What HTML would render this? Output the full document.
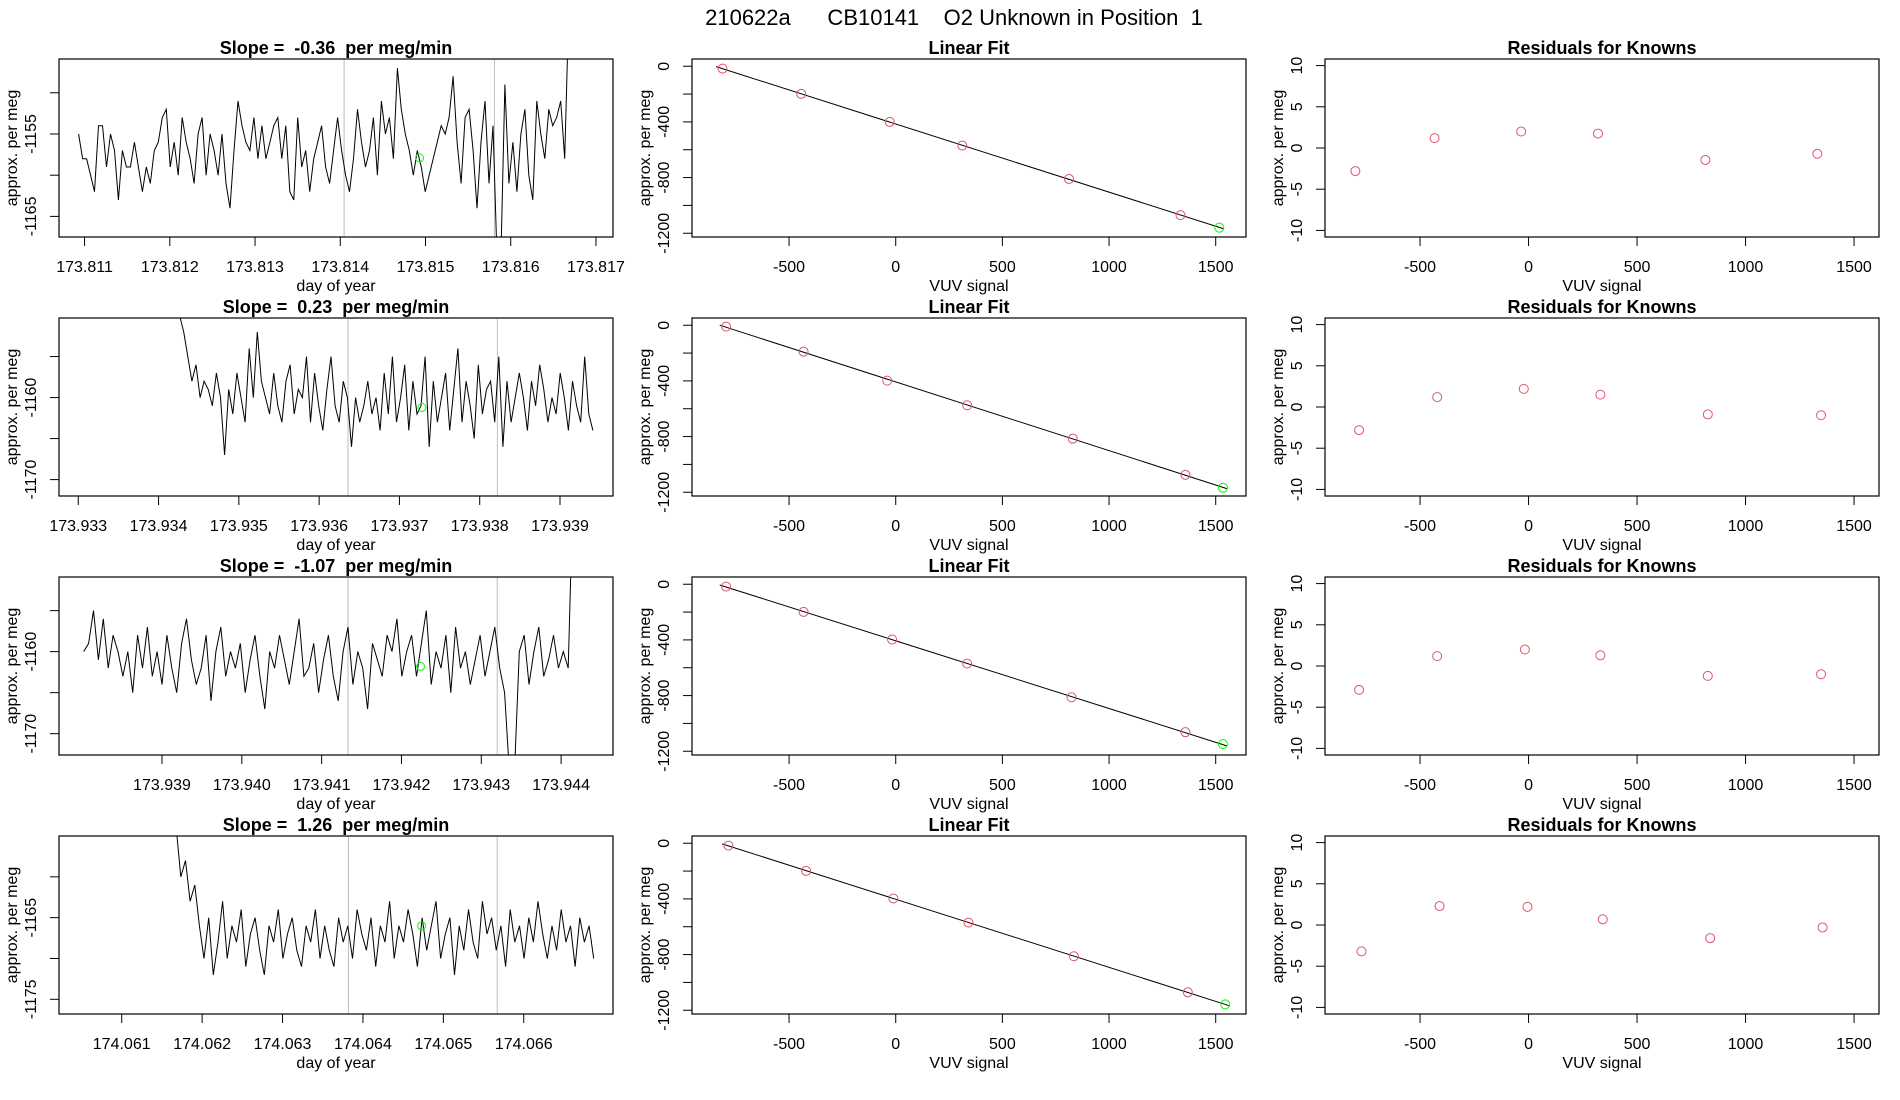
<!DOCTYPE html>
<html><head><meta charset="utf-8"><style>
html,body{margin:0;padding:0;background:#fff;}
svg{display:block;font-family:"Liberation Sans",sans-serif;}
svg text{white-space:pre;}
</style></head><body>
<svg id="chart" width="1900" height="1100" viewBox="0 0 1900 1100" xmlns="http://www.w3.org/2000/svg">
<rect width="1900" height="1100" fill="#fff"/>
<text x="954" y="25" font-size="22" text-anchor="middle">210622a      CB10141    O2 Unknown in Position  1</text>
<g id="panels"></g>
</svg>
<script>
// ---------- time series data ----------
const ts1Vals=[-1155,-1158,-1158,-1160,-1162,-1154,-1154,-1159,-1155,-1157,-1163,-1157,-1159,-1159,-1156,-1159,-1162,-1159,-1161,-1157,-1156,-1153,-1152,-1159,-1156,-1160,-1153,-1156,-1158,-1161,-1155,-1153,-1160,-1155,-1157,-1160,-1155,-1161,-1164,-1157,-1151,-1154,-1156,-1157,-1153,-1158,-1154,-1158,-1156,-1154,-1153,-1158,-1154,-1162,-1163,-1153,-1159,-1157,-1162,-1158,-1156,-1154,-1159,-1161,-1157,-1153,-1157,-1160,-1162,-1158,-1152,-1156,-1159,-1157,-1153,-1160,-1151,-1155,-1153,-1158,-1147,-1152,-1155,-1157,-1160,-1157,-1159,-1162,-1160,-1158,-1156,-1154,-1155,-1153,-1148,-1156,-1161,-1153,-1152,-1157,-1164,-1156,-1151,-1161,-1154,-1170,-1170,-1149,-1161,-1156,-1162,-1155,-1152,-1160,-1163,-1151,-1155,-1158,-1152,-1154,-1153,-1151,-1158,-1140];
const ts2Vals=[-1145,-1148,-1150,-1152,-1155,-1158,-1156,-1160,-1158,-1159,-1161,-1157,-1160,-1167,-1159,-1162,-1157,-1160,-1163,-1154,-1160,-1152,-1158,-1160,-1162,-1157,-1161,-1163,-1158,-1156,-1162,-1159,-1160,-1155,-1163,-1157,-1161,-1164,-1159,-1155,-1161,-1163,-1158,-1160,-1166,-1160,-1163,-1161,-1158,-1162,-1160,-1164,-1157,-1162,-1155,-1163,-1160,-1156,-1164,-1158,-1162,-1161,-1155,-1166,-1158,-1163,-1160,-1157,-1164,-1159,-1154,-1163,-1158,-1161,-1165,-1156,-1162,-1159,-1158,-1163,-1155,-1166,-1158,-1163,-1160,-1157,-1160,-1164,-1158,-1161,-1156,-1159,-1163,-1160,-1162,-1157,-1160,-1164,-1158,-1161,-1163,-1155,-1162,-1164];
const ts3Vals=[-1160,-1159,-1155,-1161,-1156,-1162,-1158,-1160,-1163,-1160,-1165,-1158,-1162,-1157,-1163,-1160,-1164,-1158,-1162,-1165,-1159,-1156,-1161,-1164,-1162,-1158,-1166,-1160,-1157,-1163,-1160,-1162,-1159,-1165,-1161,-1158,-1163,-1167,-1160,-1162,-1158,-1161,-1164,-1160,-1156,-1163,-1162,-1159,-1165,-1161,-1158,-1163,-1166,-1160,-1157,-1164,-1160,-1162,-1167,-1159,-1161,-1163,-1158,-1160,-1156,-1163,-1160,-1158,-1163,-1159,-1155,-1164,-1160,-1162,-1158,-1165,-1157,-1162,-1160,-1164,-1161,-1158,-1163,-1160,-1157,-1162,-1165,-1175,-1175,-1160,-1158,-1164,-1160,-1157,-1163,-1161,-1158,-1162,-1160,-1162,-1140];
const ts4Vals=[-1150,-1154,-1160,-1158,-1163,-1161,-1166,-1170,-1165,-1172,-1168,-1163,-1170,-1166,-1168,-1164,-1171,-1167,-1165,-1169,-1172,-1166,-1168,-1164,-1170,-1167,-1165,-1169,-1171,-1166,-1168,-1164,-1170,-1166,-1169,-1171,-1165,-1168,-1166,-1170,-1164,-1167,-1169,-1165,-1171,-1166,-1168,-1163,-1170,-1166,-1168,-1164,-1167,-1171,-1165,-1169,-1166,-1163,-1170,-1167,-1165,-1172,-1166,-1169,-1164,-1168,-1170,-1163,-1167,-1165,-1169,-1166,-1171,-1164,-1168,-1166,-1170,-1165,-1168,-1163,-1167,-1170,-1166,-1169,-1164,-1168,-1166,-1171,-1165,-1168,-1166,-1170];
const tsStart=[173.81093,173.93416,173.93802,174.06162];
const tsEnd=[173.81668,173.93941,173.94415,174.06687];
const tsXlim=[[173.8107,173.8172],[173.93276,173.93966],[173.93771,173.94465],[174.06022,174.06711]];
const tsYlim=[[-1167.5,-1145.9],[-1172,-1150.3],[-1172.6,-1150.9],[-1176.8,-1155]];
const tsXticks=[[173.811,173.812,173.813,173.814,173.815,173.816,173.817],[173.933,173.934,173.935,173.936,173.937,173.938,173.939],[173.939,173.940,173.941,173.942,173.943,173.944],[174.061,174.062,174.063,174.064,174.065,174.066]];
const tsYticks=[[-1165,-1160,-1155,-1150],[-1170,-1165,-1160,-1155],[-1170,-1165,-1160,-1155],[-1175,-1170,-1165,-1160]];
const tsYlabels=[[-1165,-1155],[-1170,-1160],[-1170,-1160],[-1175,-1165]];
const tsVlines=[[173.814045,173.815809],[173.93636,173.93822],[173.94133,173.94320],[174.06382,174.06567]];
const tsGreenX=[173.81493,173.93728,173.94224,174.06473];
const tsGreenY=[-1157.9,-1161.2,-1161.8,-1166];
const slopeText=["-0.36","0.23","-1.07","1.26"];
// ---------- linear fit data ----------
const fitX=[[-812,-443,-28,312,812,1335],[-795,-432,-40,335,830,1358],[-795,-432,-17,335,824,1358],[-784,-420,-11,341,835,1369]];
const fitY=[[-17,-199,-400,-570,-810,-1070],[-10,-190,-398,-575,-815,-1075],[-17,-199,-397,-570,-812,-1063],[-17,-199,-397,-570,-812,-1071]];
const unkX=[1517,1534,1534,1545];
const unkY=[-1160,-1168,-1149,-1158];
const fitXlim=[-955,1642], fitYlim=[-1227,52];
const fitXticks=[-500,0,500,1000,1500];
const fitYticks=[0,-200,-400,-600,-800,-1000,-1200];
const fitYlabels=[0,-400,-800,-1200];
// ---------- residuals ----------
const resX=[[-798,-433,-34,320,815,1331],[-781,-421,-22,331,826,1348],[-781,-421,-17,331,826,1348],[-770,-410,-5,342,837,1355]];
const resY=[[-2.8,1.2,2.0,1.75,-1.45,-0.7],[-2.8,1.2,2.2,1.5,-0.9,-1.0],[-2.9,1.2,2.0,1.3,-1.2,-1.0],[-3.2,2.3,2.2,0.7,-1.6,-0.3]];
const resXlim=[-938,1615], resYlim=[-10.8,10.8];
const resXticks=[-500,0,500,1000,1500];
const resYticks=[10,5,0,-5,-10];

const NS="http://www.w3.org/2000/svg";
const COLX=[59,692,1325], W=554, ROWY=[59,318,577,836], H=178;
const root=document.getElementById('panels');
function mk(tag,attrs,parent){const e=document.createElementNS(NS,tag);for(const k in attrs)e.setAttribute(k,attrs[k]);(parent||root).appendChild(e);return e;}
function scale(d0,d1,r0,r1){return v=>r0+(v-d0)/(d1-d0)*(r1-r0);}

function panel(r,c,xlim,ylim,xticks,yticks,ylabels,xfmt,title,xlab,name){
  const L=COLX[c],T=ROWY[r],R=L+W,B=T+H;
  const g=mk('g',{});
  
  
  const sx=scale(xlim[0],xlim[1],L,R), sy=scale(ylim[0],ylim[1],B,T);
  const cid='clip'+r+'_'+c;
  const cp=mk('clipPath',{id:cid},g); mk('rect',{x:L,y:T,width:W,height:H},cp);
  const t=mk('text',{x:L+W/2,y:T-5,'font-size':18,'font-weight':'bold','text-anchor':'middle'},g);
  t.textContent=title;
  
  
  const xa=mk('g',{},g);
  
  
  mk('line',{x1:sx(xticks[0]),x2:sx(xticks[xticks.length-1]),y1:B,y2:B,stroke:'#000'},xa);
  xticks.forEach(v=>{const x=sx(v);mk('line',{x1:x,x2:x,y1:B,y2:B+9,stroke:'#000'},xa);
    const tl=mk('text',{x:x,y:B+35,'font-size':16,'text-anchor':'middle'},xa);tl.textContent=xfmt(v);});
  const xl=mk('text',{x:L+W/2,y:B+54,'font-size':16,'text-anchor':'middle'},g);xl.textContent=xlab;
  
  
  const ya=mk('g',{},g);
  
  
  mk('line',{x1:L,x2:L,y1:sy(yticks[0]),y2:sy(yticks[yticks.length-1]),stroke:'#000'},ya);
  yticks.forEach(v=>{const y=sy(v);mk('line',{x1:L-9,x2:L,y1:y,y2:y,stroke:'#000'},ya);
    if(ylabels.indexOf(v)>=0){const tl=mk('text',{x:L-23,y:y,'font-size':16,'text-anchor':'middle',transform:'rotate(-90 '+(L-23)+' '+y+')'},ya);tl.textContent=String(v);}});
  const yl=mk('text',{x:L-42,y:T+H/2,'font-size':16,'text-anchor':'middle',transform:'rotate(-90 '+(L-42)+' '+(T+H/2)+')'},g);yl.textContent='approx. per meg';
  
  
  const plot=mk('g',{'clip-path':'url(#'+cid+')'},g);
  const box=mk('rect',{x:L,y:T,width:W,height:H,fill:'none',stroke:'#000','stroke-width':1.2},g);
  
  
  return {sx,sy,plot};
}

for(let r=0;r<4;r++){
  const vals=[ts1Vals,ts2Vals,ts3Vals,ts4Vals][r];
  const p=panel(r,0,tsXlim[r],tsYlim[r],tsXticks[r],tsYticks[r],tsYlabels[r],v=>v.toFixed(3),'Slope =  '+slopeText[r]+'  per meg/min','day of year','timeseries-panel-'+(r+1));
  tsVlines[r].forEach(v=>{const l=mk('line',{x1:p.sx(v),x2:p.sx(v),y1:ROWY[r],y2:ROWY[r]+H,stroke:'#bebebe'},p.plot);
    
    });
  const n=vals.length;
  const pts=vals.map((v,i)=>{const t=tsStart[r]+(tsEnd[r]-tsStart[r])*i/(n-1);return p.sx(t).toFixed(1)+','+p.sy(v).toFixed(1);}).join(' ');
  const pl=mk('polyline',{points:pts,fill:'none',stroke:'#000','stroke-width':1},p.plot);
  
  
  const gc=mk('circle',{cx:p.sx(tsGreenX[r]),cy:p.sy(tsGreenY[r]),r:4,fill:'none',stroke:'#00ff00','stroke-width':1},p.plot);
  
  

  const q=panel(r,1,fitXlim,fitYlim,fitXticks,fitYticks,fitYlabels,v=>String(v),'Linear Fit','VUV signal','linear-fit-panel-'+(r+1));
  const xs=fitX[r],ys=fitY[r],m=xs.length;
  const mx=xs.reduce((a,b)=>a+b,0)/m,my=ys.reduce((a,b)=>a+b,0)/m;
  let sxy=0,sxx=0;for(let i=0;i<m;i++){sxy+=(xs[i]-mx)*(ys[i]-my);sxx+=(xs[i]-mx)**2;}
  const b1=sxy/sxx,b0=my-b1*mx;
  const x0=xs[0]-30,x1=unkX[r]+20;
  const fl=mk('line',{x1:q.sx(x0),y1:q.sy(b0+b1*x0),x2:q.sx(x1),y2:q.sy(b0+b1*x1),stroke:'#000','stroke-width':1},q.plot);
  
  
  for(let i=0;i<m;i++){const cc=mk('circle',{cx:q.sx(xs[i]),cy:q.sy(ys[i]),r:4.5,fill:'none',stroke:'#DF536B','stroke-width':1},q.plot);
    
    }
  const uc=mk('circle',{cx:q.sx(unkX[r]),cy:q.sy(unkY[r]),r:4.5,fill:'none',stroke:'#00ff00','stroke-width':1},q.plot);
  
  

  const s=panel(r,2,resXlim,resYlim,resXticks,resYticks,resYticks,v=>String(v),'Residuals for Knowns','VUV signal','residuals-panel-'+(r+1));
  for(let i=0;i<resX[r].length;i++){const rc=mk('circle',{cx:s.sx(resX[r][i]),cy:s.sy(resY[r][i]),r:4.5,fill:'none',stroke:'#DF536B','stroke-width':1},s.plot);
    
    }
}
</script>
</body></html>
